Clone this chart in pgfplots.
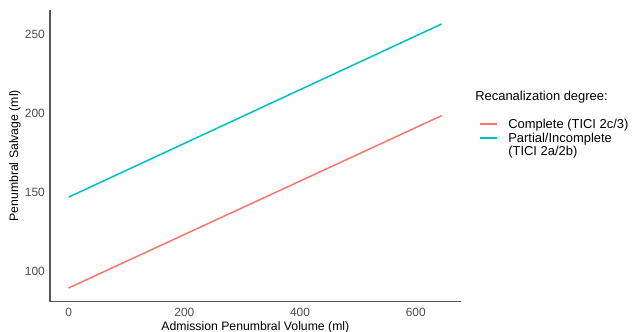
\documentclass[border=0pt]{standalone}
\usepackage{pgfplots}
\pgfplotsset{compat=1.18}
\usepackage{fontspec}
\setmainfont{Liberation Sans}
\definecolor{cComplete}{HTML}{F8766D}
\definecolor{cPartial}{HTML}{00BFC4}
\definecolor{tickgrey}{HTML}{4D4D4D}
\definecolor{axgrey}{HTML}{555555}
\pgfplotsset{partialimg/.style={legend image code/.code={\draw[##1, line width=2bp] (0bp,7bp) -- (17bp,7bp);}}}
\begin{document}
\begin{tikzpicture}
\path[use as bounding box] (-50bp,-30.3bp) rectangle (582bp,301.7bp);
\begin{axis}[
  at={(0,0)}, anchor=south west,
  scale only axis, width=410.7bp, height=291.7bp,
  xmin=-32.3, xmax=677.7, ymin=80.8, ymax=265.4,
  axis x line=bottom, axis y line=left,
  axis line style={draw=axgrey, line width=1.3bp, -},
  xtick={0,200,400,600}, ytick={100,150,200,250},
  major tick length=0pt,
  /pgf/number format/assume math mode=true,
  tick label style={font=\fontsize{12}{14}\selectfont, text=tickgrey},
  xticklabel style={anchor=north, inner sep=0pt, yshift=-6.5bp},
  yticklabel style={anchor=east, inner sep=0pt, xshift=-5bp},
  xlabel={Admission Penumbral Volume (ml)},
  ylabel={Penumbral Salvage (ml)},
  label style={font=\fontsize{12.3}{14}\selectfont, inner sep=0pt},
  xlabel style={at={(axis description cs:0.5,0)}, anchor=north, yshift=-20bp},
  ylabel style={at={(axis description cs:-0.0852,0.5)}, anchor=center, rotate=0},
  legend style={at={(axis description cs:1.0375,0.634)}, anchor=north west,
    draw=none, fill=none, font=\fontsize{13}{13.8}\selectfont,
    nodes={inner sep=0pt}, row sep=3bp, column sep=0pt,
    cells={align=left}},
  legend cell align=left,
  legend image code/.code={\draw[#1, line width=2bp] (0bp,0bp) -- (17bp,0bp);},
  clip=false,
]
\addplot[cComplete, line width=1.5bp] coordinates {(0,89.5) (645,198.6)};
\addlegendentry{\hspace{10bp}Complete (TICI 2c/3)}
\addplot[cPartial, line width=1.5bp, partialimg] coordinates {(0,147) (645,256.6)};
\addlegendentry{\hspace{10bp}Partial/Incomplete\\\hspace{10bp}(TICI 2a/2b)}
\node[anchor=base west, inner sep=0pt, font=\fontsize{13}{14}\selectfont] at (axis description cs:1.035,0.691) {Recanalization degree:};
\end{axis}
\end{tikzpicture}
\end{document}
